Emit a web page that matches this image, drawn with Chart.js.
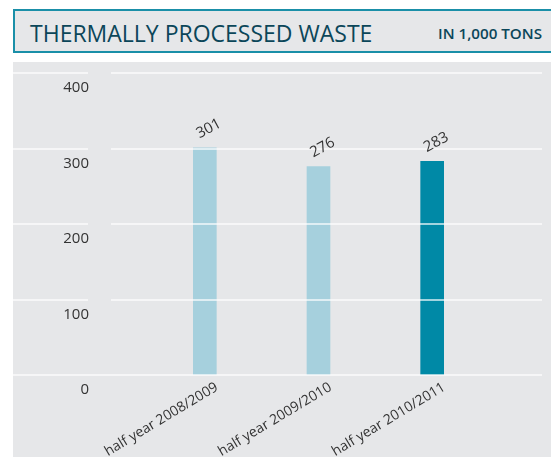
<!DOCTYPE html>
<html>
<head>
<meta charset="utf-8">
<script src="https://cdn.jsdelivr.net/npm/chart.js@4"></script>
<style>
  html, body { margin: 0; padding: 0; background: #fff; }
  body { width: 551px; height: 457px; position: relative; overflow: hidden; font-family: "Open Sans", sans-serif; }
  .header {
    position: absolute; left: 13px; top: 9px; width: 560px; height: 40px;
    border: 2px solid #1a8fa8; border-right: none;
    background: #e6e7e9;
  }
  .header .title {
    position: absolute; left: 15px; top: 6px;
    font-size: 23px; color: #0b4659; letter-spacing: 0;
  }
  .header .unit {
    position: absolute; left: 423px; top: 12px;
    font-size: 15.2px; font-weight: 600; color: #0b4659;
  }
  .panel { position: absolute; left: 13px; top: 62px; right: 0; bottom: 0; background: #e6e7e9; }
  canvas { position: absolute; left: 0; top: 0; }
</style>
</head>
<body>
<div class="panel"></div>
<div class="header">
  <span class="title">THERMALLY PROCESSED WASTE</span>
  <span class="unit">IN 1,000 TONS</span>
</div>
<canvas id="myChart" width="551" height="457"></canvas>
<script>
const categories = ['half year 2008/2009', 'half year 2009/2010', 'half year 2010/2011'];
const wasteValues = [301, 276, 283];
const yTicks = [0, 100, 200, 300, 400];

const barColors = ['#a6d0dd', '#a6d0dd', '#0089a6'];

// white lines over the bars, with a short piece left of the tick labels
const gridPlugin = {
    id: 'gridLines',
    afterDatasetsDraw(chart) {
        const ctx = chart.ctx;
        const y = chart.scales.y;
        ctx.save();
        ctx.strokeStyle = 'rgba(255,255,255,0.85)';
        ctx.lineWidth = 1.5;
        yTicks.forEach(v => {
            const py = Math.round(y.getPixelForValue(v));
            ctx.beginPath();
            if (v === 0) {
                ctx.moveTo(13, py);
                ctx.lineTo(542, py);
            } else {
                ctx.moveTo(13, py);
                ctx.lineTo(88, py);
                ctx.moveTo(111, py);
                ctx.lineTo(542, py);
            }
            ctx.stroke();
        });
        ctx.restore();
    }
};

// value above each bar, tilted
const valuePlugin = {
    id: 'valueLabels',
    afterDatasetsDraw(chart) {
        const ctx = chart.ctx;
        const meta = chart.getDatasetMeta(0);
        ctx.save();
        ctx.fillStyle = '#333333';
        ctx.font = '15px "Open Sans"';
        ctx.textAlign = 'center';
        ctx.textBaseline = 'middle';
        meta.data.forEach((bar, i) => {
            ctx.save();
            ctx.translate(bar.x + 4, bar.y - 19);
            ctx.rotate(-28 * Math.PI / 180);
            ctx.fillText(String(wasteValues[i]), 0, 0);
            ctx.restore();
        });
        ctx.restore();
    }
};

const ctx = document.getElementById('myChart').getContext('2d');

const myChart = new Chart(ctx, {
    type: 'bar',
    data: {
        labels: categories,
        datasets: [{
            data: wasteValues,
            backgroundColor: barColors,
            borderWidth: 0,
            barThickness: 23
        }]
    },
    options: {
        responsive: false,
        animation: false,
        layout: {
            padding: { left: 0, right: 62, top: 73, bottom: 0 }
        },
        plugins: {
            legend: { display: false },
            tooltip: { enabled: false }
        },
        scales: {
            x: {
                grid: { display: false, drawTicks: false },
                border: { display: false },
                ticks: {
                    autoSkip: false,
                    minRotation: 31,
                    maxRotation: 31,
                    padding: 4,
                    labelOffset: 12,
                    color: '#333333',
                    font: { family: 'Open Sans', size: 14 }
                },
                afterFit: function(scale) { scale.height = 82; }
            },
            y: {
                min: 0,
                max: 400,
                grid: { display: false, drawTicks: false },
                border: { display: false },
                ticks: {
                    stepSize: 100,
                    padding: 59,
                    labelOffset: 15,
                    color: '#333333',
                    font: { family: 'Open Sans', size: 15 }
                },
                afterFit: function(scale) { scale.width = 148; }
            }
        }
    },
    plugins: [gridPlugin, valuePlugin]
});
</script>
</body>
</html>
